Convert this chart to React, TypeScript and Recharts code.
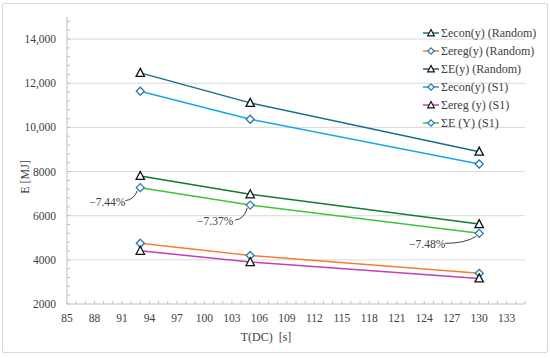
import React from 'react';
import { LineChart, Line, XAxis, YAxis, ReferenceLine, LabelList } from 'recharts';

// ---- data ----
const T_DC = [93, 105, 130];
const econRandom = [12470, 11110, 8900];
const eregRandom = [4750, 4200, 3390];
const eRandom = [7800, 6970, 5620];
const econS1 = [11640, 10370, 8340];
const eregS1 = [4410, 3900, 3160];
const eS1 = [7270, 6480, 5200];
const pctLabels = ['−7.44%', '−7.37%', '−7.48%'];

const xTickLabels = [85, 88, 91, 94, 97, 100, 103, 106, 109, 112, 115, 118, 121, 124, 127, 130, 133];
const yTickLabels = [2000, 4000, 6000, 8000, 10000, 12000, 14000];

const legendNames = [
  'Σecon(y) (Random)',
  'Σereg(y) (Random)',
  'ΣE(y) (Random)',
  'Σecon(y) (S1)',
  'Σereg (y) (S1)',
  'ΣE (Y) (S1)',
];

// ---- styles ----
const FONT = 'Liberation Serif';
const TEXT = '#404040';
const AXIS = '#bfbfbf';
const GRID = '#d9d9d9';
const DIAMOND = '#2878b0';

const data = T_DC.map((t, i) => ({
  t,
  econRandom: econRandom[i],
  eregRandom: eregRandom[i],
  eRandom: eRandom[i],
  econS1: econS1[i],
  eregS1: eregS1[i],
  eS1: eS1[i],
}));

const series = [
  { key: 'econRandom', name: legendNames[0], color: '#1b6a90', marker: 'tri' },
  { key: 'eregRandom', name: legendNames[1], color: '#f47d30', marker: 'dia' },
  { key: 'eRandom', name: legendNames[2], color: '#117a35', marker: 'tri' },
  { key: 'econS1', name: legendNames[3], color: '#12a8e6', marker: 'dia' },
  { key: 'eregS1', name: legendNames[4], color: '#c43fb5', marker: 'tri' },
  { key: 'eS1', name: legendNames[5], color: '#3cc43c', marker: 'dia' },
];

const minorX: number[] = [];
for (let v = 85; v <= 135; v += 1) minorX.push(v);
const minorY: number[] = [];
for (let v = 2000; v <= 15000; v += 400) minorY.push(v);

function Marker({ cx, cy, kind }: { cx: number; cy: number; kind: string }) {
  if (cx == null || cy == null) return null;
  if (kind === 'tri') {
    return (
      <path
        d={`M${cx},${cy - 4.5} L${cx + 4.2},${cy + 3.5} L${cx - 4.2},${cy + 3.5} Z`}
        fill="#fff"
        stroke="#111"
        strokeWidth={1.3}
      />
    );
  }
  return (
    <path
      d={`M${cx},${cy - 4} L${cx + 4},${cy} L${cx},${cy + 4} L${cx - 4},${cy} Z`}
      fill="#fff"
      stroke={DIAMOND}
      strokeWidth={1.3}
    />
  );
}

const XTick = (props: any) => {
  const { x, y, payload } = props;
  const v = payload.value;
  const show = xTickLabels.includes(v);
  return (
    <g>
      <line x1={x} x2={x} y1={y} y2={y - 3} stroke={AXIS} strokeWidth={1} />
      {show && (
        <text x={x} y={y + 18} textAnchor="middle" style={{ fontFamily: FONT }} fontSize={11.5} fill={TEXT}>
          {v}
        </text>
      )}
    </g>
  );
};

const fmtY = (v: number) => (v >= 10000 ? v.toLocaleString('en-US') : String(v));

const YTick = (props: any) => {
  const { x, y, payload } = props;
  const v = payload.value;
  const show = yTickLabels.includes(v);
  return (
    <g>
      <line x1={x} x2={x + 3} y1={y} y2={y} stroke={AXIS} strokeWidth={1} />
      {show && (
        <text x={x - 11} y={y} dy="0.35em" textAnchor="end" style={{ fontFamily: FONT }} fontSize={11.5} fill={TEXT}>
          {fmtY(v)}
        </text>
      )}
    </g>
  );
};

const annoOffsets = [
  { tx: -33, ty: 14, lx: -15, ly: 13, cx: -6, cy: 12 },
  { tx: -35, ty: 16, lx: -15, ly: 15, cx: -6, cy: 14 },
  { tx: -52, ty: 11, lx: -34, ly: 10, cx: -14, cy: 10 },
];

const Annotation = (props: any) => {
  const { x, y, index } = props;
  const o = annoOffsets[index];
  if (!o) return null;
  return (
    <g>
      <path
        d={`M${x + o.lx},${y + o.ly} Q${x + o.cx},${y + o.cy} ${x - 3},${y + 3}`}
        fill="none"
        stroke="#404040"
        strokeWidth={1}
      />
      <text x={x + o.tx} y={y + o.ty} dy="0.35em" textAnchor="middle" style={{ fontFamily: FONT }} fontSize={11.5} fill={TEXT}>
        {pctLabels[index]}
      </text>
    </g>
  );
};

const LegendBox = () => (
  <div
    style={{
      position: 'absolute',
      left: 422,
      top: 24,
      width: 128,
      fontFamily: FONT,
      fontSize: 12,
      color: TEXT,
      lineHeight: '18px',
    }}
  >
    {series.map((s) => (
      <div key={s.key} style={{ display: 'flex', alignItems: 'center', height: 18 }}>
        <svg width={18} height={12} style={{ marginRight: 1, flex: 'none' }}>
          <line x1={1} x2={17} y1={6} y2={6} stroke={s.color} strokeWidth={1.5} />
          {s.marker === 'tri' ? (
            <path d="M9,2.5 L12.3,8.8 L5.7,8.8 Z" fill="#fff" stroke="#111" strokeWidth={1.2} />
          ) : (
            <path d="M9,2.8 L12.2,6 L9,9.2 L5.8,6 Z" fill="#fff" stroke={DIAMOND} strokeWidth={1.2} />
          )}
        </svg>
        <span style={{ whiteSpace: 'nowrap' }}>{s.name}</span>
      </div>
    ))}
  </div>
);

export default function App() {
  return (
    <div style={{ position: 'absolute', left: 0, top: 0, width: 550, height: 358, background: '#fff' }}>
      <div
        style={{
          position: 'absolute',
          left: 2,
          top: 3,
          width: 544,
          height: 348,
          border: '1px solid #d9d9d9',
          borderRadius: 2,
        }}
      />
      <div style={{ position: 'absolute', left: 0, top: 0 }}>
        <LineChart width={550} height={358} data={data} margin={{ top: 17, right: 25, bottom: 0, left: 0 }}>
          {yTickLabels.slice(1).map((v) => (
            <ReferenceLine key={v} y={v} stroke={GRID} strokeWidth={1} />
          ))}
          <XAxis
            type="number"
            dataKey="t"
            domain={[85, 135]}
            ticks={minorX}
            interval={0}
            tick={<XTick />}
            tickLine={false}
            tickSize={0}
            tickMargin={0}
            axisLine={{ stroke: AXIS }}
            height={54}
            allowDataOverflow
            label={{
              content: () => (
                <text x={266} y={341} textAnchor="middle" style={{ fontFamily: FONT }} fontSize={12} fill={TEXT}>
                  {'T(DC)\u00a0\u00a0[s]'}
                </text>
              ),
            }}
          />
          <YAxis
            type="number"
            domain={[2000, 15000]}
            ticks={minorY}
            interval={0}
            tick={<YTick />}
            tickLine={false}
            tickSize={0}
            tickMargin={0}
            axisLine={{ stroke: AXIS }}
            width={67}
            allowDataOverflow
            label={{
              content: () => (
                <text
                  x={25}
                  y={177}
                  textAnchor="middle"
                  dy="0.35em"
                  transform="rotate(-90 25 177)"
                  style={{ fontFamily: FONT }}
                  fontSize={12}
                  fill={TEXT}
                >
                  E [MJ]
                </text>
              ),
            }}
          />
          {series.map((s) => (
            <Line
              key={s.key}
              type="linear"
              dataKey={s.key}
              name={s.name}
              stroke={s.color}
              strokeWidth={1.5}
              isAnimationActive={false}
              activeDot={false}
              dot={(p: any) => <Marker key={`${s.key}-${p.index}`} cx={p.cx} cy={p.cy} kind={s.marker} />}
            >
              {s.key === 'eS1' && <LabelList dataKey="eS1" content={<Annotation />} />}
            </Line>
          ))}
        </LineChart>
      </div>
      <LegendBox />
    </div>
  );
}
